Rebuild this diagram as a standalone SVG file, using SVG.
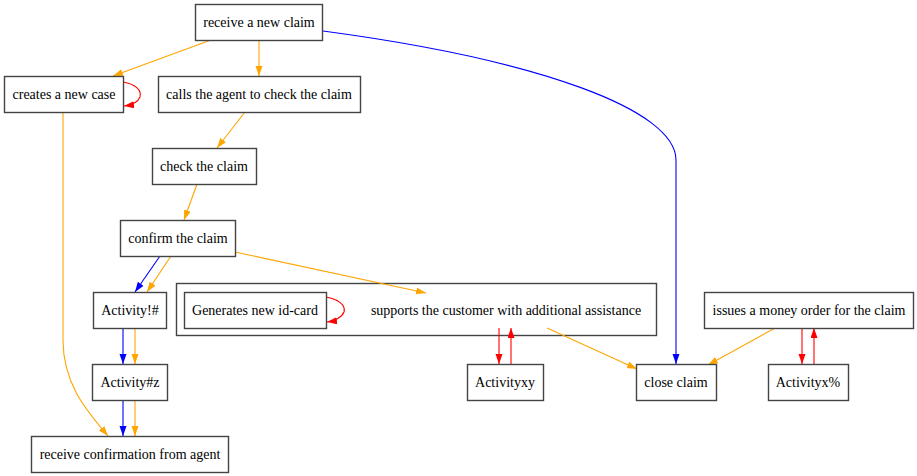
<svg xmlns="http://www.w3.org/2000/svg" width="917" height="476" viewBox="0 0 917 476">
<style>
.n rect{fill:#fff;stroke:#444;stroke-width:1.4}
.c rect{fill:none;stroke:#444;stroke-width:1.4}
text{font-family:"Liberation Serif","Times New Roman",serif;font-size:14px;fill:#000;text-anchor:middle}
.e path{fill:none;stroke-width:1.1}
.o{stroke:orange;marker-end:url(#ao)}
.b{stroke:blue;marker-end:url(#ab)}
.r{stroke:red;marker-end:url(#ar)}
</style>
<defs>
<marker id="ao" markerUnits="userSpaceOnUse" markerWidth="12" markerHeight="10" refX="10" refY="3.5" orient="auto"><path d="M0,0 L10,3.5 L0,7 Z" fill="orange"/></marker>
<marker id="ab" markerUnits="userSpaceOnUse" markerWidth="12" markerHeight="10" refX="10" refY="3.5" orient="auto"><path d="M0,0 L10,3.5 L0,7 Z" fill="blue"/></marker>
<marker id="ar" markerUnits="userSpaceOnUse" markerWidth="12" markerHeight="10" refX="10" refY="3.5" orient="auto"><path d="M0,0 L10,3.5 L0,7 Z" fill="red"/></marker>
</defs>
<rect width="917" height="476" fill="#fff"/>
<g id="cluster" class="c"><rect x="176.5" y="283.5" width="480" height="52"/><text x="506" y="315">supports the customer with additional assistance</text></g>
<g id="edges" class="e">
<path class="o" d="M211,40 L113,76"/>
<path class="o" d="M259,40 L259,76"/>
<path class="b" d="M323,31 C540,60 676,110 676,160 L676,364"/>
<path class="r" d="M123,82 C135,84 142,90 140,97 C138,102 132,105 124,106"/>
<path class="o" d="M63,112 L63,340 C63,385 88,412 108,436"/>
<path class="o" d="M245,112 L217,148"/>
<path class="o" d="M197,184 L184,220"/>
<path class="b" d="M160,256 L135,292"/>
<path class="o" d="M171,256 L147,292"/>
<path class="o" d="M235,252 L426,293"/>
<path class="b" d="M123,328 L123,364"/>
<path class="o" d="M135,328 L135,364"/>
<path class="b" d="M123,400 L123,436"/>
<path class="o" d="M135,400 L135,436"/>
<path class="r" d="M326,297 C338,299 346,305 344,312 C342,317 335,321 327,322"/>
<path class="r" d="M499,328 L499,364"/>
<path class="r" d="M511,364 L511,328"/>
<path class="o" d="M547,328 L637,369"/>
<path class="o" d="M775,328 L708,365"/>
<path class="r" d="M802,328 L802,364"/>
<path class="r" d="M814,364 L814,328"/>
</g>
<g id="n1" class="n"><rect x="195.5" y="4.5" width="127" height="36"/><text x="259" y="27">receive a new claim</text></g>
<g id="n2" class="n"><rect x="4.5" y="76.5" width="119" height="36"/><text x="64" y="99">creates a new case</text></g>
<g id="n3" class="n"><rect x="158.5" y="76.5" width="202" height="36"/><text x="259" y="99">calls the agent to check the claim</text></g>
<g id="n4" class="n"><rect x="152.5" y="148.5" width="104" height="36"/><text x="204" y="171">check the claim</text></g>
<g id="n5" class="n"><rect x="120.5" y="220.5" width="115" height="36"/><text x="178" y="243">confirm the claim</text></g>
<g id="n6" class="n"><rect x="93.5" y="292.5" width="73" height="36"/><text x="130" y="315">Activity!#</text></g>
<g id="n7" class="n"><rect x="92.5" y="364.5" width="75" height="36"/><text x="130" y="387">Activity#z</text></g>
<g id="n8" class="n"><rect x="31.5" y="436.5" width="197" height="36"/><text x="130" y="459">receive confirmation from agent</text></g>
<g id="n9" class="n"><rect x="184.5" y="292.5" width="142" height="36"/><text x="255" y="315">Generates new id-card</text></g>
<g id="n10" class="n"><rect x="467.5" y="364.5" width="76" height="36"/><text x="505" y="387">Activityxy</text></g>
<g id="n11" class="n"><rect x="636.5" y="364.5" width="80" height="36"/><text x="676" y="387">close claim</text></g>
<g id="n12" class="n"><rect x="704.5" y="292.5" width="209" height="36"/><text x="809" y="315">issues a money order for the claim</text></g>
<g id="n13" class="n"><rect x="768.5" y="364.5" width="80" height="36"/><text x="808" y="387">Activityx%</text></g>
</svg>
